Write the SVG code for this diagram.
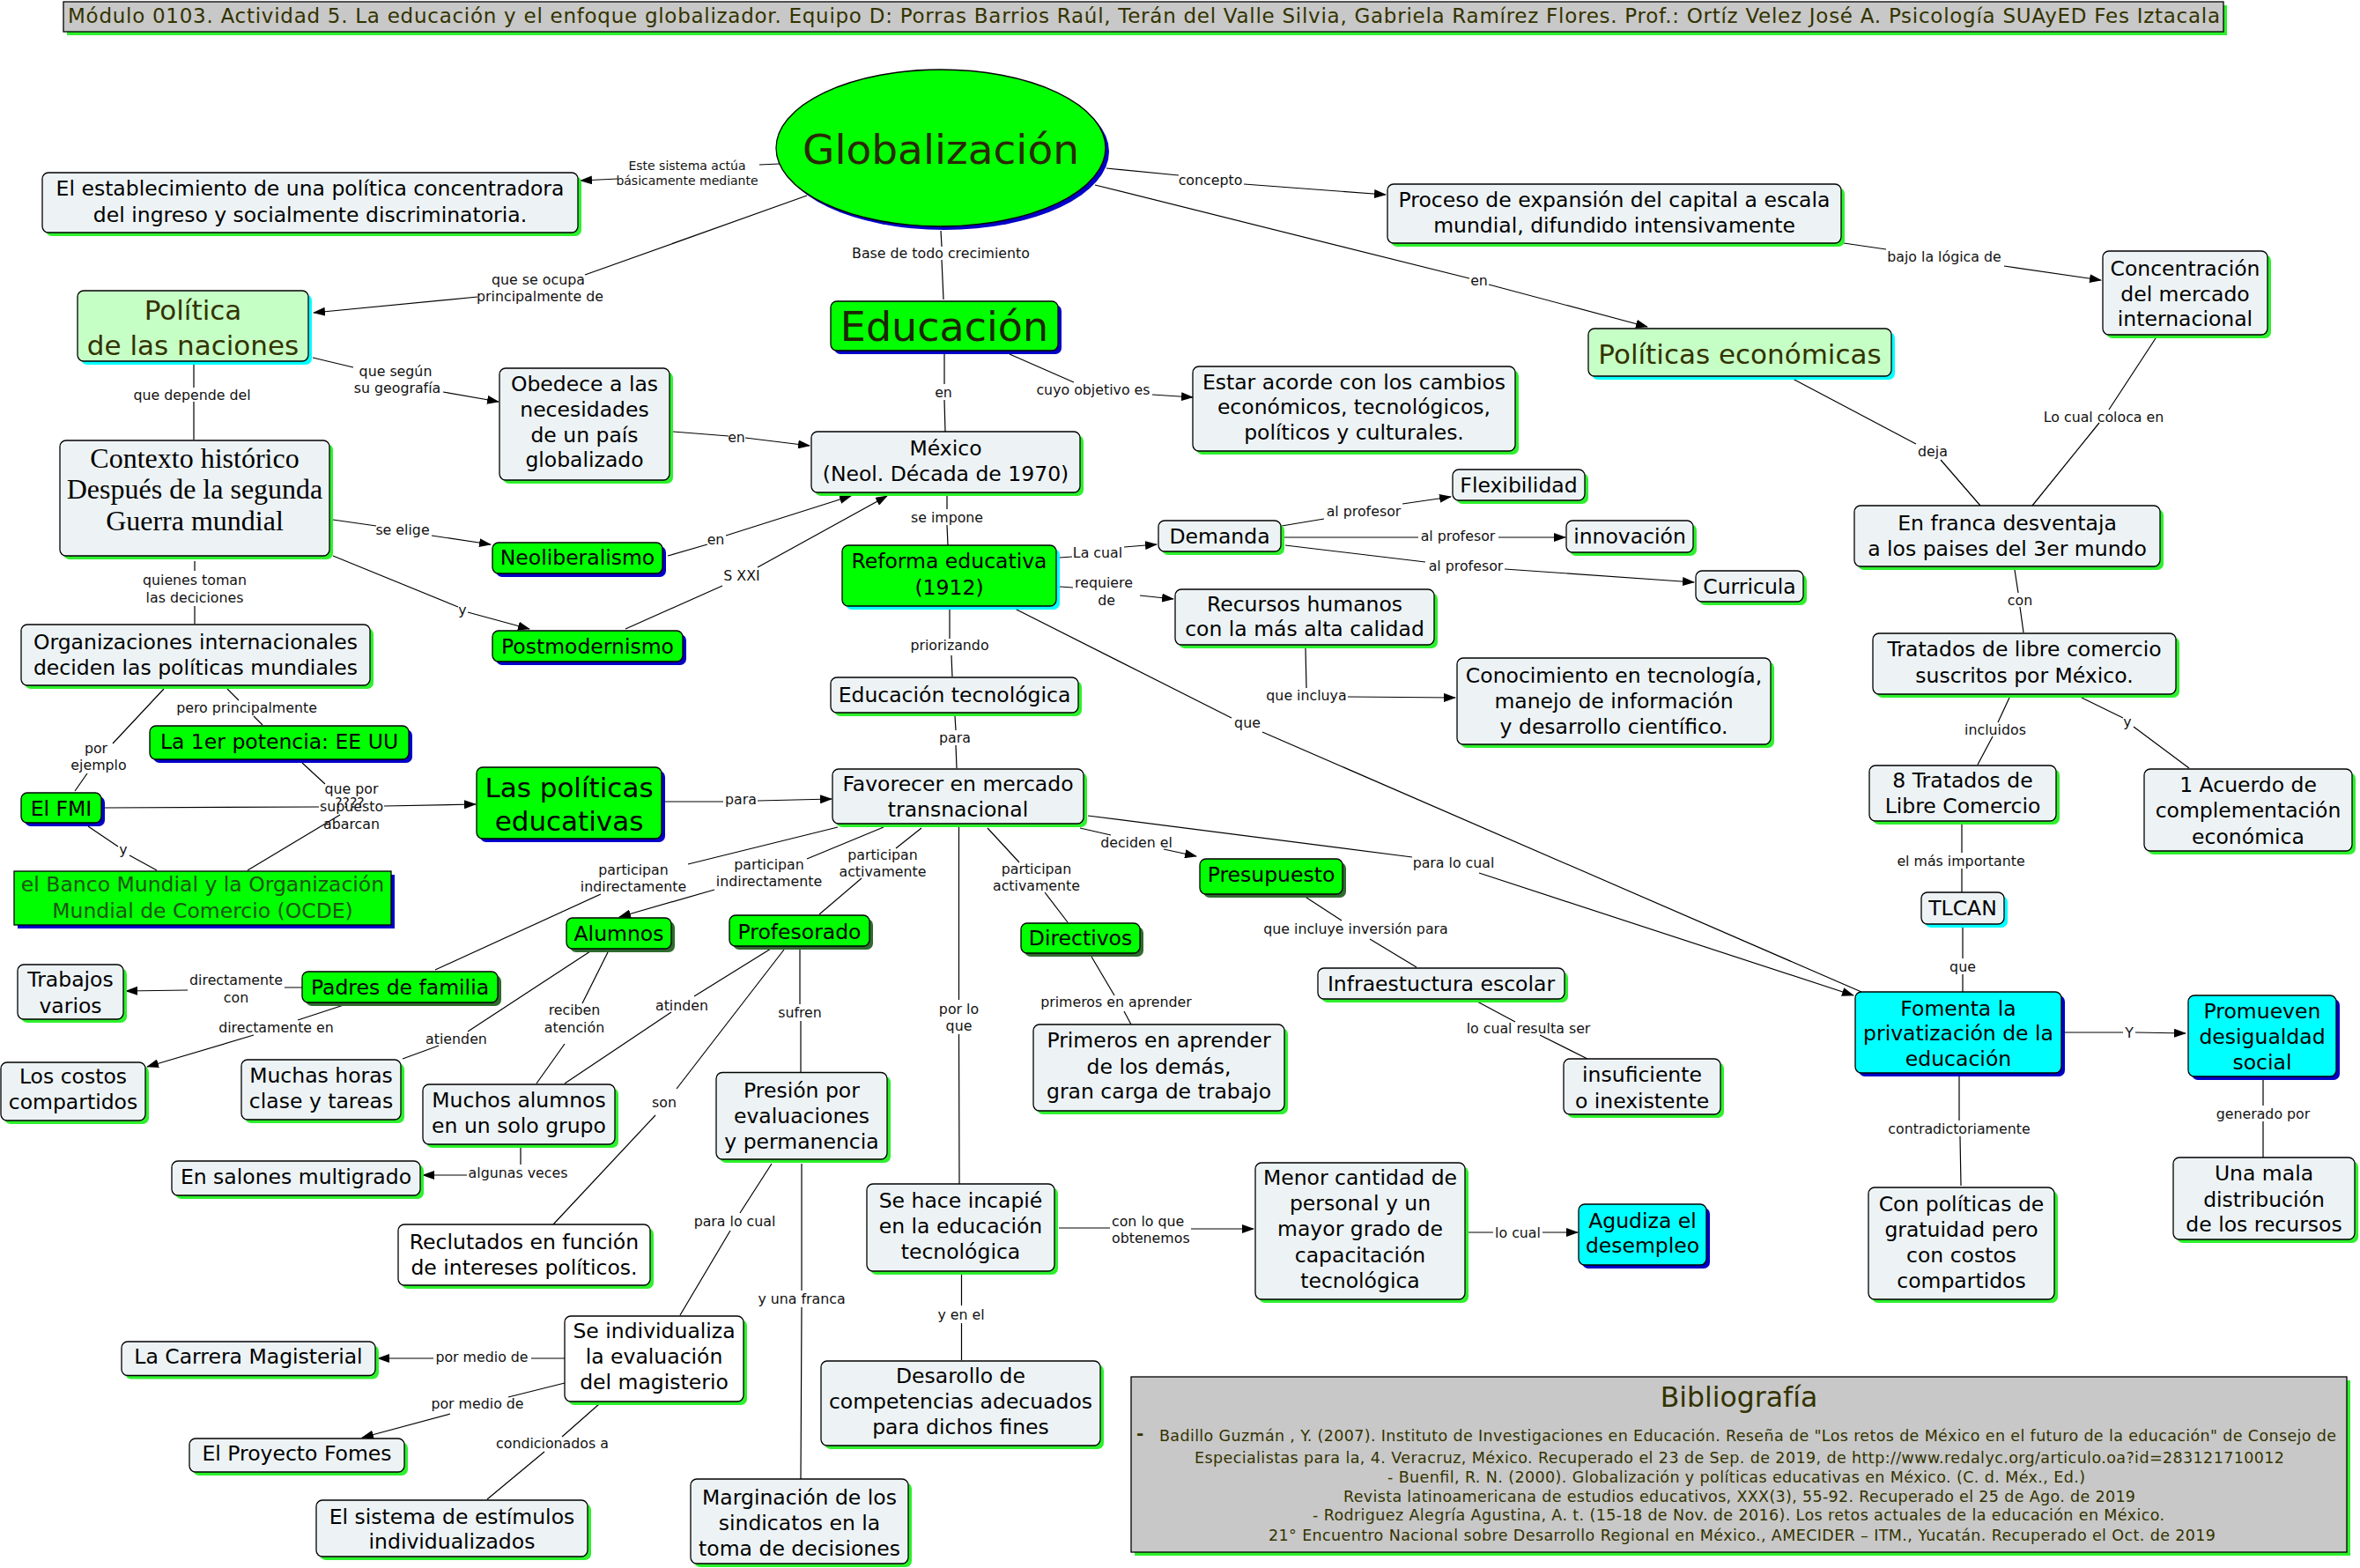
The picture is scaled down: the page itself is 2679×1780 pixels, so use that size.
<svg xmlns="http://www.w3.org/2000/svg" width="2679" height="1780" viewBox="0 0 2679 1780">
<defs>
<marker id="ah" markerWidth="14" markerHeight="10" refX="13" refY="5" orient="auto" markerUnits="userSpaceOnUse"><path d="M0,0 L14,5 L0,10 z" fill="#000"/></marker>
</defs>
<style>
text{font-family:"DejaVu Sans",Verdana,sans-serif}
.t{font-size:23.5px;text-anchor:middle;fill:#000}
.big{font-size:31px;text-anchor:middle;fill:#333300}
.ser{font-family:"Liberation Serif","Times New Roman",serif;font-size:32px;text-anchor:middle;fill:#000}
.l{font-size:15.8px;text-anchor:middle;fill:#111}
.ls{font-size:14px;text-anchor:middle;fill:#111}
.bib{font-size:17.5px;fill:#333300}
.bx{fill:#edf3f5;stroke:#000;stroke-width:1.3}
.wh{fill:#ffffff;stroke:#000;stroke-width:1.3}
.gr{fill:#00ff00;stroke:#000;stroke-width:1.3}
.lg{fill:#c6ffc6;stroke:#000;stroke-width:1.3}
.cy{fill:#00ffff;stroke:#000;stroke-width:1.3}
.gy{fill:#c8c8c8;stroke:#000;stroke-width:1.3}
.sg{fill:#2ef02e}
.sb{fill:#0000c8}
.sd{fill:#2f6a2f}
.sc{fill:#00ffff}
#conn path{fill:none;stroke:#000;stroke-width:1.2}
</style>
<rect width="2679" height="1780" fill="#fff"/>

<g id="conn">
<g><path d="M885,186 L862,187 M701,203 L659,205" marker-end="url(#ah)"/><text class="ls" x="780" y="192.5">Este sistema actúa</text><text class="ls" x="780" y="210">básicamente mediante</text></g>
<g><path d="M916,222 L664,312 M542,337 L356,355" marker-end="url(#ah)"/><text class="l" x="611" y="322.5">que se ocupa</text><text class="l" x="613" y="341.5">principalmente de</text></g>
<g><path d="M1068,262 L1069,280 M1069,295 L1071,340"/><text class="l" x="1068" y="292.5">Base de todo crecimiento</text></g>
<g><path d="M1256,191 L1338,199 M1412,209 L1573,221" marker-end="url(#ah)"/><text class="l" x="1374" y="209.5">concepto</text></g>
<g><path d="M1243,210 L1668,316 M1690,323 L1870,371" marker-end="url(#ah)"/><text class="l" x="1679" y="323.5">en</text></g>
<g><path d="M2093,276 L2141,283 M2275,302 L2385,318" marker-end="url(#ah)"/><text class="l" x="2207" y="296.5">bajo la lógica de</text></g>
<g><path d="M2035,430 L2175,504 M2203,522 L2248,574"/><text class="l" x="2194" y="517.5">deja</text></g>
<g><path d="M2447,384 L2394,465 M2383,480 L2307,574"/><text class="l" x="2388" y="478.5">Lo cual coloca en</text></g>
<g><path d="M2287,647 L2291,673 M2293,689 L2297,718"/><text class="l" x="2293" y="686.5">con</text></g>
<g><path d="M2281,792 L2268,820 M2262,836 L2245,868"/><text class="l" x="2265" y="833.5">incluidos</text></g>
<g><path d="M2363,792 L2410,815 M2422,825 L2485,872"/><text class="l" x="2415" y="824.5">y</text></g>
<g><path d="M2227,936 L2227,968 M2227,986 L2227,1013"/><text class="l" x="2226" y="982.5">el más importante</text></g>
<g><path d="M2228,1049 L2228,1088 M2228,1106 L2228,1126"/><text class="l" x="2228" y="1102.5">que</text></g>
<g><path d="M2344,1172 L2410,1172 M2424,1172 L2481,1173" marker-end="url(#ah)"/><text class="l" x="2417" y="1177.5">Y</text></g>
<g><path d="M2224,1222 L2224,1272 M2225,1290 L2226,1346"/><text class="l" x="2224" y="1286.5">contradictoriamente</text></g>
<g><path d="M2569,1226 L2569,1255 M2569,1273 L2569,1314"/><text class="l" x="2569" y="1269.5">generado por</text></g>
<g><path d="M1072,402 L1072,436 M1072,454 L1073,490"/><text class="l" x="1071" y="450.5">en</text></g>
<g><path d="M1146,402 L1219,434 M1308,448 L1354,451" marker-end="url(#ah)"/><text class="l" x="1241" y="447.5">cuyo objetivo es</text></g>
<g><path d="M355,406 L401,417 M503,445 L566,456" marker-end="url(#ah)"/><text class="l" x="449" y="426.5">que según</text><text class="l" x="451" y="445.5">su geografía</text></g>
<g><path d="M220,410 L220,440 M220,456 L220,499"/><text class="l" x="218" y="453.5">que depende del</text></g>
<g><path d="M764,490 L827,495 M846,497 L919,506" marker-end="url(#ah)"/><text class="l" x="836" y="501.5">en</text></g>
<g><path d="M378,590 L427,597 M490,608 L557,618" marker-end="url(#ah)"/><text class="l" x="457" y="606.5">se elige</text></g>
<g><path d="M378,631 L520,689 M531,695 L601,714" marker-end="url(#ah)"/><text class="l" x="525" y="697.5">y</text></g>
<g><path d="M221,637 L221,648 M221,688 L221,708"/><text class="l" x="221" y="663.5">quienes toman</text><text class="l" x="221" y="683.5">las deciciones</text></g>
<g><path d="M758,631 L803,618 M824,608 L966,563" marker-end="url(#ah)"/><text class="l" x="812.5" y="617.5">en</text></g>
<g><path d="M710,714 L820,665 M860,644 L1007,563" marker-end="url(#ah)"/><text class="l" x="842" y="658.5">S XXI</text></g>
<g><path d="M1075,563 L1075,578 M1075,596 L1076,619"/><text class="l" x="1075" y="592.5">se impone</text></g>
<g><path d="M258,782 L271,795 M288,813 L298,823"/><text class="l" x="280" y="808.5">pero principalmente</text></g>
<g><path d="M186,782 L128,844 M99,878 L85,898"/><text class="l" x="109" y="854.5">por</text><text class="l" x="112" y="873.5">ejemplo</text></g>
<g><path d="M119,917 L362,916 M436,915 L540,913" marker-end="url(#ah)"/><text class="l" x="397" y="916.5">????</text></g>
<g><path d="M343,866 L369,890 M386,925 L281,988"/><text class="l" x="399" y="901">que por</text><text class="l" x="399" y="920.5">supuesto</text><text class="l" x="399" y="940.5">abarcan</text></g>
<g><path d="M100,938 L134,961 M147,971 L178,988"/><text class="l" x="140" y="969.5">y</text></g>
<g><path d="M753,910 L821,910 M860,909 L944,907" marker-end="url(#ah)"/><text class="l" x="841" y="912.5">para</text></g>
<g><path d="M1203,633 L1217,632 M1276,621 L1313,618" marker-end="url(#ah)"/><text class="l" x="1246" y="633">La cual</text></g>
<g><path d="M1203,666 L1218,667 M1294,676 L1332,680" marker-end="url(#ah)"/><text class="l" x="1253" y="666.5">requiere</text><text class="l" x="1256" y="686.5">de</text></g>
<g><path d="M1152,691 L1398,815 M1433,831 L2113,1126"/><text class="l" x="1416" y="825.5">que</text></g>
<g><path d="M1078,691 L1078,725 M1080,744 L1081,768"/><text class="l" x="1078" y="737.5">priorizando</text></g>
<g><path d="M1084,813 L1085,829 M1085,846 L1086,872"/><text class="l" x="1084" y="842.5">para</text></g>
<g><path d="M1455,597 L1503,589 M1592,572 L1647,564" marker-end="url(#ah)"/><text class="l" x="1548" y="585.5">al profesor</text></g>
<g><path d="M1458,610 L1610,610 M1701,610 L1777,610" marker-end="url(#ah)"/><text class="l" x="1655" y="614">al profesor</text></g>
<g><path d="M1459,619 L1618,638 M1708,646 L1923,661" marker-end="url(#ah)"/><text class="l" x="1664" y="648">al profesor</text></g>
<g><path d="M1482,736 L1483,781 M1530,791 L1652,792" marker-end="url(#ah)"/><text class="l" x="1483" y="794.5">que incluya</text></g>
<g><path d="M951,939 L781,981 M682,1015 L494,1101"/><text class="l" x="719" y="992.5">participan</text><text class="l" x="719" y="1011.5">indirectamente</text></g>
<g><path d="M1003,939 L916,975 M811,1010 L703,1041" marker-end="url(#ah)"/><text class="l" x="873" y="986.5">participan</text><text class="l" x="873" y="1005.5">indirectamente</text></g>
<g><path d="M1046,940 L1017,963 M978,997 L930,1038"/><text class="l" x="1002" y="975.5">participan</text><text class="l" x="1002" y="994.5">activamente</text></g>
<g><path d="M1088.5,939 L1088.5,1135 M1088.5,1174 L1089,1344"/><text class="l" x="1088.5" y="1150.5">por lo</text><text class="l" x="1088.5" y="1169.5">que</text></g>
<g><path d="M1121,940 L1157,979 M1186,1013 L1212,1047"/><text class="l" x="1176.5" y="992">participan</text><text class="l" x="1176.5" y="1011">activamente</text></g>
<g><path d="M1226,940 L1261,948 M1321,964 L1358,972" marker-end="url(#ah)"/><text class="l" x="1290" y="961.5">deciden el</text></g>
<g><path d="M1235,926 L1603,973 M1679,991 L2104,1130" marker-end="url(#ah)"/><text class="l" x="1650" y="984.5">para lo cual</text></g>
<g><path d="M1480,1017 L1523,1045 M1555,1066 L1608,1098"/><text class="l" x="1539" y="1059.5">que incluye inversión para</text></g>
<g><path d="M1677,1137 L1720,1160 M1748,1175 L1802,1202"/><text class="l" x="1735" y="1172.5">lo cual resulta ser</text></g>
<g><path d="M1239,1086 L1265,1130 M1276,1148 L1284,1163"/><text class="l" x="1267" y="1142.5">primeros en aprender</text></g>
<g><path d="M343,1121 L323,1121 M213,1124 L143,1125" marker-end="url(#ah)"/><text class="l" x="268" y="1118">directamente</text><text class="l" x="268" y="1137.5">con</text></g>
<g><path d="M390,1141 L338,1158 M288,1175 L167,1211" marker-end="url(#ah)"/><text class="l" x="313.5" y="1171.5">directamente en</text></g>
<g><path d="M690,1081 L661,1139 M641,1185 L609,1230"/><text class="l" x="652" y="1151.5">reciben</text><text class="l" x="652" y="1171.5">atención</text></g>
<g><path d="M670,1080 L531,1171 M498,1187 L457,1202"/><text class="l" x="518" y="1184.5">atienden</text></g>
<g><path d="M875,1077 L788,1131 M762,1149 L641,1230"/><text class="l" x="774" y="1146.5">atinden</text></g>
<g><path d="M890,1078 L768,1236 M744,1266 L628,1390"/><text class="l" x="754" y="1256.5">son</text></g>
<g><path d="M908,1078 L908,1140 M909,1159 L909,1217"/><text class="l" x="908" y="1154.5">sufren</text></g>
<g><path d="M591,1302 L591,1322 M530,1334 L480,1334" marker-end="url(#ah)"/><text class="l" x="588" y="1336.5">algunas veces</text></g>
<g><path d="M876,1321 L840,1377 M829,1397 L772,1493"/><text class="l" x="834" y="1391.5">para lo cual</text></g>
<g><path d="M910,1321 L910,1465 M910,1484 L909,1679"/><text class="l" x="910" y="1479.5">y una franca</text></g>
<g><path d="M1202,1394 L1260,1394 M1352,1395 L1423,1395" marker-end="url(#ah)"/><text class="l" x="1262" y="1391.5" style="text-anchor:start">con lo que</text><text class="l" x="1262" y="1410.5" style="text-anchor:start">obtenemos</text></g>
<g><path d="M1667,1399 L1695,1399 M1751,1399 L1791,1399" marker-end="url(#ah)"/><text class="l" x="1723" y="1404.5">lo cual</text></g>
<g><path d="M1091.5,1446 L1091.5,1482 M1091.5,1502 L1091.5,1544"/><text class="l" x="1091" y="1497.5">y en el</text></g>
<g><path d="M641,1542 L603,1542 M492,1542 L429,1542" marker-end="url(#ah)"/><text class="l" x="547" y="1546">por medio de</text></g>
<g><path d="M641,1570 L577,1586 M511,1605 L411,1632" marker-end="url(#ah)"/><text class="l" x="542" y="1598.5">por medio de</text></g>
<g><path d="M680,1594 L638,1631 M618,1648 L553,1702"/><text class="l" x="627" y="1644">condicionados a</text></g>
</g>

<g id="n-titulo"><rect class="sg" x="76" y="6" width="2452" height="34"/><rect class="gy" x="72" y="2" width="2452" height="34"/><text x="77" y="26" style="font-size:23px;fill:#333300" textLength="2443">Módulo 0103. Actividad 5. La educación y el enfoque globalizador. Equipo D: Porras Barrios Raúl, Terán del Valle Silvia, Gabriela Ramírez Flores. Prof.: Ortíz Velez José A. Psicología SUAyED Fes Iztacala</text></g>

<g id="n-globalizacion"><ellipse class="sb" cx="1072" cy="172" rx="187" ry="89"/><ellipse cx="1068" cy="168" rx="187" ry="89" fill="#00ff00" stroke="#000" stroke-width="1.3"/><text x="1068" y="186" style="font-size:47px;text-anchor:middle;fill:#2a2a00">Globalización</text></g>

<g id="n-establecimiento"><rect class="sg" x="52" y="200" width="608" height="68" rx="7"/><rect class="bx" x="48" y="196" width="608" height="68" rx="7"/><text class="t"><tspan x="352" y="222">El establecimiento de una política concentradora</tspan><tspan x="352" y="252">del ingreso y socialmente discriminatoria.</tspan></text></g>

<g id="n-politica"><rect class="sc" x="92" y="334" width="262" height="80" rx="7"/><rect class="lg" x="88" y="330" width="262" height="80" rx="7"/><text class="big"><tspan x="219" y="363">Política</tspan><tspan x="219" y="403">de las naciones</tspan></text></g>

<g id="n-educacion"><rect class="sb" x="947" y="346" width="258" height="56" rx="7"/><rect class="gr" x="943" y="342" width="258" height="56" rx="7"/><text x="1072" y="387" style="font-size:46px;text-anchor:middle;fill:#1e2600">Educación</text></g>

<g id="n-obedece"><rect class="sg" x="571" y="422" width="193" height="127" rx="7"/><rect class="bx" x="567" y="418" width="193" height="127" rx="7"/><text class="t"><tspan x="663.5" y="444">Obedece a las</tspan><tspan x="663.5" y="473">necesidades</tspan><tspan x="663.5" y="502">de un país</tspan><tspan x="663.5" y="530">globalizado</tspan></text></g>

<g id="n-mexico"><rect class="sg" x="925" y="494" width="305" height="69" rx="7"/><rect class="bx" x="921" y="490" width="305" height="69" rx="7"/><text class="t"><tspan x="1073.5" y="517">México</tspan><tspan x="1073.5" y="546">(Neol. Década de 1970)</tspan></text></g>

<g id="n-estar"><rect class="sg" x="1358" y="420" width="366" height="96" rx="7"/><rect class="bx" x="1354" y="416" width="366" height="96" rx="7"/><text class="t"><tspan x="1537" y="442">Estar acorde con los cambios</tspan><tspan x="1537" y="470">económicos, tecnológicos,</tspan><tspan x="1537" y="499">políticos y culturales.</tspan></text></g>

<g id="n-proceso"><rect class="sg" x="1579" y="213" width="515" height="67" rx="7"/><rect class="bx" x="1575" y="209" width="515" height="67" rx="7"/><text class="t"><tspan x="1832.5" y="235">Proceso de expansión del capital a escala</tspan><tspan x="1832.5" y="264">mundial, difundido intensivamente</tspan></text></g>

<g id="n-politicas-economicas"><rect class="sc" x="1807" y="377" width="344" height="54" rx="7"/><rect class="lg" x="1803" y="373" width="344" height="54" rx="7"/><text class="big" x="1975" y="413">Políticas económicas</text></g>

<g id="n-concentracion"><rect class="sg" x="2391" y="289" width="187" height="95" rx="7"/><rect class="bx" x="2387" y="285" width="187" height="95" rx="7"/><text class="t"><tspan x="2480.5" y="313">Concentración</tspan><tspan x="2480.5" y="342">del mercado</tspan><tspan x="2480.5" y="370">internacional</tspan></text></g>

<g id="n-contexto"><rect class="sg" x="72" y="504" width="306" height="131" rx="7"/><rect class="bx" x="68" y="500" width="306" height="131" rx="7"/><text class="ser"><tspan x="221" y="531">Contexto histórico</tspan><tspan x="221" y="566">Después de la segunda</tspan><tspan x="221" y="602">Guerra mundial</tspan></text></g>

<g id="n-neoliberalismo"><rect class="sb" x="563" y="620" width="193" height="35" rx="7"/><rect class="gr" x="559" y="616" width="193" height="35" rx="7"/><text class="t" x="655.5" y="641">Neoliberalismo</text></g>

<g id="n-postmodernismo"><rect class="sb" x="563" y="720" width="216" height="35" rx="7"/><rect class="gr" x="559" y="716" width="216" height="35" rx="7"/><text class="t" x="667" y="742">Postmodernismo</text></g>

<g id="n-organizaciones"><rect class="sg" x="28" y="713" width="396" height="69" rx="7"/><rect class="bx" x="24" y="709" width="396" height="69" rx="7"/><text class="t"><tspan x="222" y="737">Organizaciones internacionales</tspan><tspan x="222" y="766">deciden las políticas mundiales</tspan></text></g>

<g id="n-potencia"><rect class="sb" x="174" y="828" width="294" height="38" rx="7"/><rect class="gr" x="170" y="824" width="294" height="38" rx="7"/><text class="t" x="317" y="850">La 1er potencia: EE UU</text></g>

<g id="n-fmi"><rect class="sb" x="28" y="904" width="91" height="34" rx="7"/><rect class="gr" x="24" y="900" width="91" height="34" rx="7"/><text class="t" x="69.5" y="926">El FMI</text></g>

<g id="n-politicas-educativas"><rect class="sb" x="545" y="875" width="210" height="81" rx="7"/><rect class="gr" x="541" y="871" width="210" height="81" rx="7"/><text class="big" style="fill:#000"><tspan x="646" y="905">Las políticas</tspan><tspan x="646" y="943">educativas</tspan></text></g>

<g id="n-banco"><rect class="sb" x="20" y="993" width="428" height="61"/><rect class="gr" x="16" y="989" width="428" height="61"/><text class="t" style="fill:#1d5512"><tspan x="230" y="1012">el Banco Mundial y la Organización</tspan><tspan x="230" y="1041.5">Mundial de Comercio (OCDE)</tspan></text></g>

<g id="n-trabajos"><rect class="sg" x="24" y="1099" width="120" height="62" rx="7"/><rect class="bx" x="20" y="1095" width="120" height="62" rx="7"/><text class="t"><tspan x="80" y="1120">Trabajos</tspan><tspan x="80" y="1149.5">varios</tspan></text></g>

<g id="n-padres"><rect class="sd" x="347" y="1107" width="222" height="35" rx="7"/><rect class="gr" x="343" y="1103" width="222" height="35" rx="7"/><text class="t" x="454" y="1129">Padres de familia</text></g>

<g id="n-alumnos"><rect class="sd" x="647" y="1046" width="119" height="35" rx="7"/><rect class="gr" x="643" y="1042" width="119" height="35" rx="7"/><text class="t" x="702.5" y="1068">Alumnos</text></g>

<g id="n-profesorado"><rect class="sd" x="832" y="1043" width="159" height="35" rx="7"/><rect class="gr" x="828" y="1039" width="159" height="35" rx="7"/><text class="t" x="907.5" y="1065.5">Profesorado</text></g>

<g id="n-directivos"><rect class="sd" x="1163" y="1052" width="135" height="34" rx="7"/><rect class="gr" x="1159" y="1048" width="135" height="34" rx="7"/><text class="t" x="1226.5" y="1072.5">Directivos</text></g>

<g id="n-reforma"><rect class="sc" x="960" y="623" width="243" height="69" rx="7"/><rect class="gr" x="956" y="619" width="243" height="69" rx="7"/><text class="t"><tspan x="1077.5" y="645">Reforma educativa</tspan><tspan x="1077.5" y="675">(1912)</tspan></text></g>

<g id="n-demanda"><rect class="sg" x="1319" y="595" width="139" height="35" rx="7"/><rect class="bx" x="1315" y="591" width="139" height="35" rx="7"/><text class="t" x="1384.5" y="616.5">Demanda</text></g>

<g id="n-flexibilidad"><rect class="sg" x="1653" y="537" width="150" height="35" rx="7"/><rect class="bx" x="1649" y="533" width="150" height="35" rx="7"/><text class="t" x="1724" y="559">Flexibilidad</text></g>

<g id="n-innovacion"><rect class="sg" x="1782" y="595" width="144" height="36" rx="7"/><rect class="bx" x="1778" y="591" width="144" height="36" rx="7"/><text class="t" x="1850" y="616.5">innovación</text></g>

<g id="n-curricula"><rect class="sg" x="1929" y="652" width="122" height="35" rx="7"/><rect class="bx" x="1925" y="648" width="122" height="35" rx="7"/><text class="t" x="1986" y="674">Curricula</text></g>

<g id="n-recursos"><rect class="sg" x="1338" y="673" width="294" height="63" rx="7"/><rect class="bx" x="1334" y="669" width="294" height="63" rx="7"/><text class="t"><tspan x="1481" y="694">Recursos humanos</tspan><tspan x="1481" y="722">con la más alta calidad</tspan></text></g>

<g id="n-conocimiento"><rect class="sg" x="1658" y="751" width="356" height="98" rx="7"/><rect class="bx" x="1654" y="747" width="356" height="98" rx="7"/><text class="t"><tspan x="1832" y="775">Conocimiento en tecnología,</tspan><tspan x="1832" y="804">manejo de información</tspan><tspan x="1832" y="833">y desarrollo científico.</tspan></text></g>

<g id="n-educacion-tecnologica"><rect class="sg" x="947" y="773" width="281" height="40" rx="7"/><rect class="bx" x="943" y="769" width="281" height="40" rx="7"/><text class="t" x="1083.5" y="797">Educación tecnológica</text></g>

<g id="n-favorecer"><rect class="sg" x="949" y="877" width="285" height="62" rx="7"/><rect class="bx" x="945" y="873" width="285" height="62" rx="7"/><text class="t"><tspan x="1087.5" y="898">Favorecer en mercado</tspan><tspan x="1087.5" y="927">transnacional</tspan></text></g>

<g id="n-presupuesto"><rect class="sd" x="1366" y="979" width="162" height="40" rx="7"/><rect class="gr" x="1362" y="975" width="162" height="40" rx="7"/><text class="t" x="1443" y="1001">Presupuesto</text></g>

<g id="n-infraestructura"><rect class="sg" x="1500" y="1103" width="280" height="35" rx="7"/><rect class="bx" x="1496" y="1099" width="280" height="35" rx="7"/><text class="t" x="1636" y="1124.5">Infraestuctura escolar</text></g>

<g id="n-insuficiente"><rect class="sg" x="1779" y="1206" width="178" height="63" rx="7"/><rect class="bx" x="1775" y="1202" width="178" height="63" rx="7"/><text class="t"><tspan x="1864" y="1228">insuficiente</tspan><tspan x="1864" y="1258">o inexistente</tspan></text></g>

<g id="n-primeros"><rect class="sg" x="1177" y="1167" width="285" height="98" rx="7"/><rect class="bx" x="1173" y="1163" width="285" height="98" rx="7"/><text class="t"><tspan x="1315.5" y="1189">Primeros en aprender</tspan><tspan x="1315.5" y="1218.5">de los demás,</tspan><tspan x="1315.5" y="1247">gran carga de trabajo</tspan></text></g>

<g id="n-franca"><rect class="sg" x="2109" y="578" width="347" height="69" rx="7"/><rect class="bx" x="2105" y="574" width="347" height="69" rx="7"/><text class="t"><tspan x="2278.5" y="602">En franca desventaja</tspan><tspan x="2278.5" y="631">a los paises del 3er mundo</tspan></text></g>

<g id="n-tratados"><rect class="sg" x="2130" y="723" width="344" height="69" rx="7"/><rect class="bx" x="2126" y="719" width="344" height="69" rx="7"/><text class="t"><tspan x="2298" y="745">Tratados de libre comercio</tspan><tspan x="2298" y="775">suscritos por México.</tspan></text></g>

<g id="n-8tratados"><rect class="sg" x="2126" y="873" width="212" height="63" rx="7"/><rect class="bx" x="2122" y="869" width="212" height="63" rx="7"/><text class="t"><tspan x="2228" y="894">8 Tratados de</tspan><tspan x="2228" y="923">Libre Comercio</tspan></text></g>

<g id="n-acuerdo"><rect class="sg" x="2438" y="877" width="236" height="93" rx="7"/><rect class="bx" x="2434" y="873" width="236" height="93" rx="7"/><text class="t"><tspan x="2552" y="899">1 Acuerdo de</tspan><tspan x="2552" y="928">complementación</tspan><tspan x="2552" y="958">económica</tspan></text></g>

<g id="n-tlcan"><rect class="sc" x="2185" y="1017" width="94" height="36" rx="7"/><rect class="bx" x="2181" y="1013" width="94" height="36" rx="7"/><text class="t" x="2228" y="1039">TLCAN</text></g>

<g id="n-fomenta"><rect class="sb" x="2110" y="1130" width="234" height="92" rx="7"/><rect class="cy" x="2106" y="1126" width="234" height="92" rx="7"/><text class="t"><tspan x="2223" y="1153">Fomenta la</tspan><tspan x="2223" y="1181">privatización de la</tspan><tspan x="2223" y="1210">educación</tspan></text></g>

<g id="n-promueven"><rect class="sb" x="2488" y="1134" width="168" height="92" rx="7"/><rect class="cy" x="2484" y="1130" width="168" height="92" rx="7"/><text class="t"><tspan x="2568" y="1156">Promueven</tspan><tspan x="2568" y="1185">desigualdad</tspan><tspan x="2568" y="1214">social</tspan></text></g>

<g id="n-gratuidad"><rect class="sg" x="2125" y="1352" width="211" height="127" rx="7"/><rect class="bx" x="2121" y="1348" width="211" height="127" rx="7"/><text class="t"><tspan x="2226.5" y="1375">Con políticas de</tspan><tspan x="2226.5" y="1404">gratuidad pero</tspan><tspan x="2226.5" y="1433">con costos</tspan><tspan x="2226.5" y="1462">compartidos</tspan></text></g>

<g id="n-mala-distribucion"><rect class="sg" x="2471" y="1318" width="206" height="93" rx="7"/><rect class="bx" x="2467" y="1314" width="206" height="93" rx="7"/><text class="t"><tspan x="2570" y="1340">Una mala</tspan><tspan x="2570" y="1370">distribución</tspan><tspan x="2570" y="1398">de los recursos</tspan></text></g>

<g id="n-costos"><rect class="sg" x="5" y="1210" width="164" height="66" rx="7"/><rect class="bx" x="1" y="1206" width="164" height="66" rx="7"/><text class="t"><tspan x="83" y="1230">Los costos</tspan><tspan x="83" y="1259">compartidos</tspan></text></g>

<g id="n-horas"><rect class="sg" x="278" y="1207" width="181" height="68" rx="7"/><rect class="bx" x="274" y="1203" width="181" height="68" rx="7"/><text class="t"><tspan x="364.5" y="1229">Muchas horas</tspan><tspan x="364.5" y="1258">clase y tareas</tspan></text></g>

<g id="n-muchos-alumnos"><rect class="sg" x="484" y="1235" width="218" height="68" rx="7"/><rect class="bx" x="480" y="1231" width="218" height="68" rx="7"/><text class="t"><tspan x="589" y="1257">Muchos alumnos</tspan><tspan x="589" y="1286">en un solo grupo</tspan></text></g>

<g id="n-salones"><rect class="sg" x="199" y="1322" width="282" height="39" rx="7"/><rect class="bx" x="195" y="1318" width="282" height="39" rx="7"/><text class="t" x="336" y="1344">En salones multigrado</text></g>

<g id="n-reclutados"><rect class="sg" x="456" y="1394" width="286" height="69" rx="7"/><rect class="wh" x="452" y="1390" width="286" height="69" rx="7"/><text class="t"><tspan x="595" y="1418">Reclutados en función</tspan><tspan x="595" y="1447">de intereses políticos.</tspan></text></g>

<g id="n-presion"><rect class="sg" x="817" y="1221.5" width="194" height="98.5" rx="7"/><rect class="bx" x="813" y="1217.5" width="194" height="98.5" rx="7"/><text class="t"><tspan x="910" y="1246">Presión por</tspan><tspan x="910" y="1275">evaluaciones</tspan><tspan x="910" y="1304">y permanencia</tspan></text></g>

<g id="n-incapie"><rect class="sg" x="988" y="1348" width="213" height="99" rx="7"/><rect class="bx" x="984" y="1344" width="213" height="99" rx="7"/><text class="t"><tspan x="1090.5" y="1371">Se hace incapié</tspan><tspan x="1090.5" y="1400">en la educación</tspan><tspan x="1090.5" y="1429">tecnológica</tspan></text></g>

<g id="n-menor"><rect class="sg" x="1429" y="1324" width="238" height="155" rx="7"/><rect class="bx" x="1425" y="1320" width="238" height="155" rx="7"/><text class="t"><tspan x="1544" y="1345">Menor cantidad de</tspan><tspan x="1544" y="1374">personal y un</tspan><tspan x="1544" y="1403">mayor grado de</tspan><tspan x="1544" y="1433">capacitación</tspan><tspan x="1544" y="1462">tecnológica</tspan></text></g>

<g id="n-desempleo"><rect class="sb" x="1796" y="1371" width="145" height="69" rx="7"/><rect class="cy" x="1792" y="1367" width="145" height="69" rx="7"/><text class="t"><tspan x="1864.5" y="1393.5">Agudiza el</tspan><tspan x="1864.5" y="1422">desempleo</tspan></text></g>

<g id="n-desarollo"><rect class="sg" x="936" y="1549" width="317" height="96" rx="7"/><rect class="bx" x="932" y="1545" width="317" height="96" rx="7"/><text class="t"><tspan x="1090.5" y="1570">Desarollo de</tspan><tspan x="1090.5" y="1599">competencias adecuados</tspan><tspan x="1090.5" y="1628">para dichos fines</tspan></text></g>

<g id="n-individualiza"><rect class="sg" x="645" y="1498" width="203" height="97" rx="7"/><rect class="wh" x="641" y="1494" width="203" height="97" rx="7"/><text class="t"><tspan x="742.5" y="1519">Se individualiza</tspan><tspan x="742.5" y="1548">la evaluación</tspan><tspan x="742.5" y="1577">del magisterio</tspan></text></g>

<g id="n-carrera"><rect class="sg" x="142" y="1527" width="288" height="38.5" rx="7"/><rect class="bx" x="138" y="1523" width="288" height="38.5" rx="7"/><text class="t" x="282" y="1548">La Carrera Magisterial</text></g>

<g id="n-fomes"><rect class="sg" x="219" y="1637" width="244" height="38" rx="7"/><rect class="bx" x="215" y="1633" width="244" height="38" rx="7"/><text class="t" x="337" y="1658">El Proyecto Fomes</text></g>

<g id="n-estimulos"><rect class="sg" x="363" y="1707" width="308" height="64" rx="7"/><rect class="bx" x="359" y="1703" width="308" height="64" rx="7"/><text class="t"><tspan x="513" y="1729.5">El sistema de estímulos</tspan><tspan x="513" y="1758">individualizados</tspan></text></g>

<g id="n-marginacion"><rect class="sg" x="788" y="1683" width="247" height="96" rx="7"/><rect class="bx" x="784" y="1679" width="247" height="96" rx="7"/><text class="t"><tspan x="907.5" y="1708">Marginación de los</tspan><tspan x="907.5" y="1737">sindicatos en la</tspan><tspan x="907.5" y="1766">toma de decisiones</tspan></text></g>

<g id="n-bibliografia"><rect class="sg" x="1288" y="1567" width="1380" height="199"/><rect class="gy" x="1284" y="1563" width="1380" height="199"/>
<text x="1974" y="1597" style="font-size:31.5px;text-anchor:middle;fill:#333300">Bibliografía</text>
<text x="1290" y="1634" style="font-size:20px;font-weight:bold;fill:#333300">-</text>
<text class="bib" x="1316" y="1636" textLength="1336">Badillo Guzmán , Y. (2007). Instituto de Investigaciones en Educación. Reseña de "Los retos de México en el futuro de la educación" de Consejo de</text>
<text class="bib" x="1356" y="1660.5" textLength="1237">Especialistas para la, 4. Veracruz, México. Recuperado el 23 de Sep. de 2019, de http://www.redalyc.org/articulo.oa?id=283121710012</text>
<text class="bib" x="1575" y="1683" textLength="792">- Buenfil, R. N. (2000). Globalización y políticas educativas en México. (C. d. Méx., Ed.)</text>
<text class="bib" x="1525" y="1704.5" textLength="899">Revista latinoamericana de estudios educativos, XXX(3), 55-92. Recuperado el 25 de Ago. de 2019</text>
<text class="bib" x="1490" y="1726" textLength="967">- Rodriguez Alegría Agustina, A. t. (15-18 de Nov. de 2016). Los retos actuales de la educación en México.</text>
<text class="bib" x="1440" y="1748.5" textLength="1075">21° Encuentro Nacional sobre Desarrollo Regional en México., AMECIDER – ITM., Yucatán. Recuperado el Oct. de 2019</text>
</g>
</svg>
